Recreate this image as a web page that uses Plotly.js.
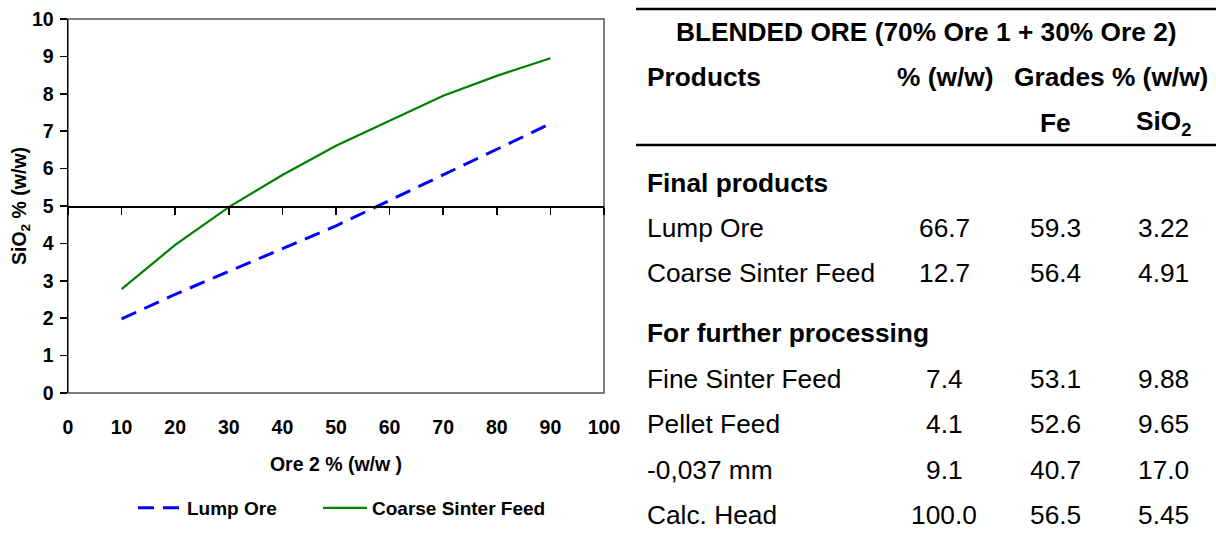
<!DOCTYPE html>
<html>
<head>
<meta charset="utf-8">
<script src="https://cdn.plot.ly/plotly-3.0.1.min.js"></script>
<style>html,body{margin:0;padding:0;background:#fff;}#chart{width:1216px;height:544px;}</style>
</head>
<body>
<div id="chart"></div>
<script>
// ---- chart data ----
var ore2Pct = [10, 20, 30, 40, 50, 60, 70, 80, 90];
var lumpOreSiO2 = [1.98, 2.64, 3.25, 3.87, 4.47, 5.15, 5.83, 6.50, 7.20];
var coarseSinterSiO2 = [2.78, 3.96, 4.97, 5.83, 6.61, 7.28, 7.95, 8.48, 8.95];
var seriesNames = ["Lump Ore", "Coarse Sinter Feed"];
var xTickVals = [0, 10, 20, 30, 40, 50, 60, 70, 80, 90, 100];
var yTickVals = [0, 1, 2, 3, 4, 5, 6, 7, 8, 9, 10];

// ---- table data ----
var tableTitle = "BLENDED ORE (70% Ore 1 + 30% Ore 2)";
var headerRow1 = ["Products", "% (w/w)", "Grades % (w/w)"];
var headerRow2 = ["Fe", "SiO<sub>2</sub>"];
var sectionNames = ["Final products", "For further processing"];
var productNames = ["Lump Ore", "Coarse Sinter Feed", "Fine Sinter Feed", "Pellet Feed", "-0,037 mm", "Calc. Head"];
var massPct = ["66.7", "12.7", "7.4", "4.1", "9.1", "100.0"];
var feGrade = ["59.3", "56.4", "53.1", "52.6", "40.7", "56.5"];
var sio2Grade = ["3.22", "4.91", "9.88", "9.65", "17.0", "5.45"];

var W = 1216, H = 544;
function px(x) { return x / W; }
function py(y) { return 1 - y / H; }

var FONT = "Liberation Sans, Arial, sans-serif";
var plotL = 68, plotR = 604, plotT = 19, plotB = 393;
var yDom = [py(plotB), py(plotT)];
var xDom = [px(plotL), px(plotR)];

var traces = [
  {
    x: ore2Pct, y: lumpOreSiO2, name: seriesNames[0], type: "scatter", mode: "lines",
    xaxis: "x2", yaxis: "y", legend: "legend",
    line: { color: "#0000FF", width: 3, dash: "16px,9px" }
  },
  {
    x: ore2Pct, y: coarseSinterSiO2, name: seriesNames[1], type: "scatter", mode: "lines",
    xaxis: "x", yaxis: "y", legend: "legend2",
    line: { color: "#008000", width: 2.2 }
  }
];

var tickFont = { family: FONT, size: 19.5, color: "#000", weight: "bold" };
var legendFont = { family: FONT, size: 19, color: "#000", weight: "bold" };

var annotations = [];
function addText(text, x, y, anchor, size, bold) {
  annotations.push({
    text: text, x: px(x), y: py(y), xref: "paper", yref: "paper",
    xanchor: anchor, yanchor: "middle", showarrow: false,
    font: { family: FONT, size: size, color: "#000", weight: bold ? "bold" : "normal" }
  });
}
var TS = 26.3;
var colL = 645, colPct = 944, colFe = 1055, colSi = 1163;
addText(tableTitle, 926.5, 32, "center", TS, true);
addText(headerRow1[0], colL, 77, "left", TS, true);
addText(headerRow1[1], 945, 77, "center", TS, true);
addText(headerRow1[2], 1110.5, 77, "center", TS, true);
addText(headerRow2[0], colFe, 123, "center", TS, true);
addText(headerRow2[1], 1164, 123, "center", TS, true);
addText(sectionNames[0], colL, 183, "left", TS, true);
addText(sectionNames[1], colL, 333, "left", TS, true);
var rowY = [228, 273, 379, 424, 470, 515];
for (var i = 0; i < productNames.length; i++) {
  addText(productNames[i], colL, rowY[i], "left", TS, false);
  addText(massPct[i], colPct, rowY[i], "center", TS, false);
  addText(feGrade[i], colFe, rowY[i], "center", TS, false);
  addText(sio2Grade[i], colSi, rowY[i], "center", TS, false);
}

var shapes = [
  { type: "rect", xref: "paper", yref: "paper", x0: xDom[0], x1: xDom[1], y0: yDom[0], y1: yDom[1],
    line: { color: "#555555", width: 1.5 }, layer: "below" },
  { type: "line", xref: "paper", yref: "paper", x0: px(636), x1: 1, y0: py(9), y1: py(9),
    line: { color: "#000", width: 2.5 } },
  { type: "line", xref: "paper", yref: "paper", x0: px(636), x1: 1, y0: py(145), y1: py(145),
    line: { color: "#000", width: 2.5 } }
];

var layout = {
  width: W, height: H,
  margin: { l: 0, r: 0, t: 0, b: 0 },
  paper_bgcolor: "#fff", plot_bgcolor: "#fff",
  font: { family: FONT, color: "#000" },
  xaxis: {
    domain: xDom, range: [0, 100], tickvals: xTickVals, ticks: "",
    showline: false, showgrid: false, zeroline: false,
    tickfont: tickFont, ticklabelstandoff: 20,
    title: { text: "Ore 2 % (w/w )", font: { family: FONT, size: 19.5, color: "#000", weight: "bold" }, standoff: 20 },
    fixedrange: true
  },
  xaxis2: {
    domain: xDom, range: [0, 100], tickvals: xTickVals, overlaying: "x", anchor: "free",
    position: yDom[0] + 0.5 * (yDom[1] - yDom[0]), side: "bottom",
    ticks: "outside", ticklen: 7, tickwidth: 1.5, tickcolor: "#000",
    showticklabels: false, showline: true, linecolor: "#000", linewidth: 1.5,
    showgrid: false, zeroline: false, fixedrange: true
  },
  yaxis: {
    domain: yDom, range: [0, 10], tickvals: yTickVals,
    ticks: "outside", ticklen: 7, tickwidth: 1.5, tickcolor: "#000",
    showline: true, linecolor: "#000", linewidth: 1.5,
    showgrid: false, zeroline: false, tickfont: tickFont, ticklabelstandoff: 2,
    title: { text: "SiO<sub>2</sub> % (w/w)", font: { family: FONT, size: 19.5, color: "#000", weight: "bold" }, standoff: 0 },
    fixedrange: true
  },
  showlegend: true,
  legend: {
    orientation: "h", x: px(133), y: py(508), xanchor: "left", yanchor: "middle",
    font: legendFont, itemwidth: 44, bgcolor: "rgba(0,0,0,0)", borderwidth: 0
  },
  legend2: {
    orientation: "h", x: px(318), y: py(508), xanchor: "left", yanchor: "middle",
    font: legendFont, itemwidth: 44, bgcolor: "rgba(0,0,0,0)", borderwidth: 0
  },
  annotations: annotations,
  shapes: shapes
};

Plotly.newPlot("chart", traces, layout, { displayModeBar: false, staticPlot: true });
</script>
</body>
</html>
